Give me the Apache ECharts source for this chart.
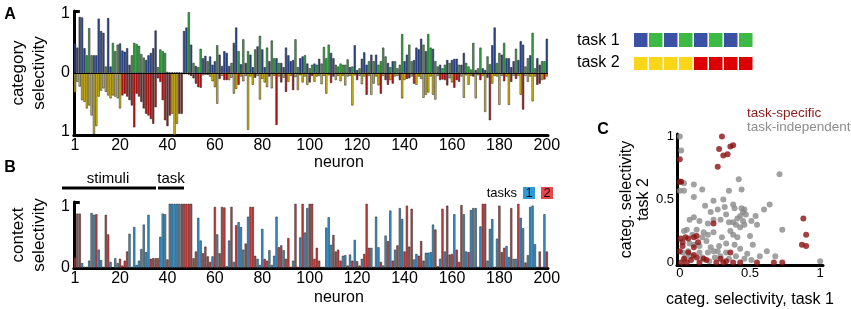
<!DOCTYPE html>
<html>
<head>
<meta charset="utf-8">
<script src="https://cdn.jsdelivr.net/npm/echarts@6.0.0/dist/echarts.min.js"></script>
<style>html,body{margin:0;padding:0;background:#fff;}#chart{width:851px;height:309px;}</style>
</head>
<body>
<div id="chart"></div>
<script>
// ---------- DATA ----------
const neurons = Array.from({length: 200}, (_, i) => String(i + 1));
const neuronTickLabels = ['1','20','40','60','80','100','120','140','160','180','200'];

// Panel A: category selectivity, task 1 (up) and task 2 (down)
const task1Selectivity = [
 .50,.43,.95,.94,.42,.30,.76,.30,.30,.30,
 .92,.71,.68,.11,.93,.11,.51,.37,.48,.50,
 .38,.36,.42,.14,.30,.51,.49,.46,.32,.26,
 .22,.30,.34,.42,.72,.10,.40,.37,.34,.02,
 .01,.01,.01,.01,.01,.00,.71,.77,1.03,.48,
 .17,.12,.10,.41,.25,.29,.20,.28,.14,.20,
 .47,.31,.12,.37,.34,.12,.17,.51,.77,.37,
 .15,.57,.17,.37,.31,.10,.40,.45,.63,.40,
 .10,.43,.20,.55,.25,.25,.17,.17,.10,.43,
 .30,.20,.22,.57,.10,.25,.28,.30,.16,.08,
 .14,.16,.14,.24,.16,.44,.25,.48,.34,.25,
 .14,.11,.16,.14,.14,.23,.10,.11,.47,.05,
 .08,.24,.35,.14,.20,.31,.20,.31,.14,.20,
 .43,.28,.17,.10,.20,.20,.08,.14,.66,.20,
 .31,.48,.20,.22,.43,.40,.58,.48,.37,.66,
 .43,.41,.20,.11,.14,.08,.14,.22,.17,.22,
 .24,.24,.14,.14,.34,.17,.11,.06,.51,.05,
 .08,.43,.08,.05,.28,.15,.47,.77,.17,.34,
 .31,.51,.25,.25,.10,.20,.41,.22,.54,.48,
 .11,.25,.30,.68,.08,.25,.14,.20,.20,.58];
const task1Category = (
 'BBBBBGGGBB' + 'BBBGBBGGGB' + 'BBBBGGGGGG' + 'BBBBBGGGGB' + 'BBBBBBBBGB' +
 'GBGGBBGBBB' + 'GBBBBBGBBG' + 'BGBGBBGBGB' + 'BGBGGBGBBB' + 'BBBGGBBGBG' +
 'GBGBGGGGBB' + 'GGGGGGBGBB' + 'GBBBGBGBGG' + 'GGBGBGGGGB' + 'BGGBBBBGBG' +
 'GBGGBGGBGB' + 'BBGBBGGGGB' + 'GGBBGGBBGG' + 'BGBBBBGBBB' + 'GGBGGBBGGB').split('');

const task2Selectivity = [
 .33,.15,.23,.46,.49,.60,.55,.72,1.03,.90,
 .40,.30,.26,.32,.38,.43,.38,.40,.43,.60,
 .38,.35,.40,.46,.55,.92,.35,.40,.49,.60,
 .69,.72,.78,.86,.58,.09,.15,.46,.80,.90,
 .72,.69,1.05,.86,.69,.69,.02,.02,.03,.05,
 .09,.18,.24,.25,.04,.03,.03,.06,.14,.24,
 .52,.10,.05,.12,.12,.12,.08,.35,.27,.20,
 .06,.14,.05,.96,.06,.20,.08,.05,.45,.10,
 .16,.24,.06,.26,.05,.88,.06,.16,.08,.32,
 .15,.05,.29,.07,.29,.04,.16,.06,.20,.16,
 .05,.15,.06,.05,.19,.05,.35,.04,.17,.06,
 .12,.05,.14,.05,.21,.06,.05,.55,.04,.12,
 .05,.19,.06,.37,.05,.37,.18,.06,.21,.35,
 .05,.12,.20,.12,.18,.06,.05,.12,.43,.12,
 .10,.09,.06,.18,.20,.06,.10,.42,.37,.33,
 .06,.37,.45,.05,.12,.11,.12,.21,.09,.16,
 .25,.12,.15,.06,.42,.04,.20,.05,.06,.43,
 .04,.12,.05,.66,.08,.80,.18,.05,.06,.54,
 .05,.14,.06,.54,.15,.05,.10,.05,.37,.62,
 .05,.15,.06,.48,.06,.20,.18,.12,.11,.06];
const task2Category = (
 'YYYYYYYYYY' + 'YYYYYYYYYY' + 'RRRRRRRRRR' + 'RRRRRRRRRR' + 'RYYYRRYRYR' +
 'RRRRYYRYYY' + 'YRYRRYYYYR' + 'YYYYYYRYYY' + 'YYRYYRYRYR' + 'YYRYYYYYYR' +
 'RYYYYYYYRR' + 'YYYYYYYYYR' + 'YYYRYYYYYR' + 'YRRYRYYRYY' + 'RRYRYYYYYY' +
 'YYYYRRRRYY' + 'RRRYYYYYRY' + 'YRYYRRYYYY' + 'YRYYRYRYYR' + 'YYYYYRRYRY').split('');

// Panel B: context selectivity, colour = preferred task
const contextSelectivity = [
 .17,.89,.89,.08,.02,.02,.12,.90,.87,.88,
 .30,.13,.02,.87,.55,.10,.01,.16,.08,.15,
 .04,.12,.27,.56,.02,.67,.05,.12,.31,.71,
 .26,.87,.15,.16,.16,.16,.51,.89,.88,.14,
 1.05,1.05,1.05,1.05,1.05,1.05,1.05,1.05,1.05,1.05,
 .16,.27,.82,.45,.24,.35,.19,.10,.19,1.00,
 .55,.24,1.00,.99,.03,.45,1.00,.10,.70,.75,
 .67,.30,.40,.84,1.00,1.00,.20,.15,.05,.64,
 .15,.12,.29,.05,.20,.84,.34,.37,.29,.15,
 .49,.02,.12,1.05,.02,.50,1.05,.58,.98,1.05,
 1.05,.15,.33,.12,.02,.02,.66,.83,.38,.54,
 .27,.30,.12,.20,.21,.04,.22,.12,.46,.11,
 .04,.15,.23,1.05,.33,.33,.02,.84,.34,.10,
 .04,.53,.44,.94,.12,.30,.37,.98,.80,.27,
 1.02,.35,.97,.14,.23,.20,.44,.12,.25,.25,
 .26,.71,.63,.03,.15,.97,.27,1.02,.22,.23,
 .88,.30,.10,1.03,.88,.27,.26,.95,.98,.98,
 .02,.68,1.05,1.05,.12,.64,.80,.02,.48,1.02,
 .26,.33,.36,.18,.98,.15,.15,1.05,.82,.65,
 .09,.21,1.00,1.02,.39,.02,.27,.02,.88,.27];
const contextTask = (
 'RRRBRRBBBR' + 'BBBRRBBBBR' + 'RRRBBBBBBB' + 'BBRRRRBBBR' + 'BBBBBRRRRR' +
 'RRBBRRRRBR' + 'BRRRBBRBRB' + 'BBRBRRRBBB' + 'RRBBBBRRBR' + 'RRBRRBRBBR' +
 'RRRRRRBBBR' + 'RRRBBRBRBR' + 'RBRRRBRBBR' + 'BBRBRBRBBR' + 'RRRBBRRRBB' +
 'BBRRBRBRRR' + 'BRRRBBRBBB' + 'BBRRBBBRBR' + 'RRBBRBBRBB' + 'RBBBBRRBBR').split('');

// Panel C: categ. selectivity task 1 (x) vs task 2 (y)
const scatterTaskSpecific = [
 [0.30,1.00],[0.28,0.90],[0.36,0.92],[0.38,0.93],[0.31,0.85],[0.34,0.86],[0.27,0.76],
 [0.00,0.82],[0.00,0.64],[0.01,0.64],[0.88,0.35],[0.90,0.22],[0.87,0.14],[0.90,0.13],
 [0.24,0.31],[0.005,0.19],[0.02,0.16],[0.02,0.13],[0.00,0.09],[0.04,0.20],[0.06,0.19],
 [0.10,0.20],[0.12,0.21],[0.13,0.16],[0.10,0.12],[0.06,0.08],[0.10,0.06],[0.17,0.03],
 [0.14,0.00],[0.19,0.02],[0.26,0.00],[0.29,0.03],[0.31,0.00],[0.33,0.01],[0.36,0.08],
 [0.38,0.00],[0.43,0.00],[0.55,0.00],[0.67,0.00],[0.73,0.00],[0.01,0.00],[0.05,0.00],
 [0.03,0.03],[0.08,0.02],[0.12,0.04]];
const scatterTaskIndependent = [
 [0.00,1.00],[0.01,0.89],[0.03,0.63],[0.00,0.57],[0.03,0.57],[0.10,0.62],[0.16,0.58],
 [0.10,0.52],[0.24,0.49],[0.31,0.50],[0.27,0.42],[0.42,0.66],[0.44,0.58],[0.38,0.46],
 [0.39,0.43],[0.44,0.43],[0.46,0.42],[0.45,0.40],[0.47,0.38],[0.43,0.37],[0.41,0.35],
 [0.38,0.32],[0.35,0.32],[0.40,0.30],[0.43,0.28],[0.46,0.30],[0.45,0.33],[0.33,0.38],
 [0.29,0.34],[0.24,0.34],[0.20,0.31],[0.14,0.33],[0.10,0.36],[0.07,0.34],[0.03,0.25],
 [0.05,0.26],[0.12,0.26],[0.17,0.24],[0.20,0.22],[0.24,0.24],[0.19,0.17],[0.14,0.13],
 [0.10,0.14],[0.06,0.09],[0.08,0.05],[0.14,0.08],[0.20,0.08],[0.24,0.09],[0.27,0.09],
 [0.29,0.05],[0.33,0.08],[0.38,0.22],[0.39,0.14],[0.43,0.11],[0.40,0.05],[0.46,0.03],
 [0.51,0.02],[0.57,0.05],[0.62,0.09],[0.68,0.05],[0.73,0.26],[0.71,0.70],[0.64,0.46],
 [0.60,0.42],[0.54,0.37],[0.51,0.33],[0.55,0.30],[0.50,0.21],[0.52,0.14],[1.00,0.01],
 [0.35,0.57],[0.22,0.40],[0.18,0.45],[0.30,0.20],[0.33,0.15],[0.28,0.13],[0.16,0.20],
 [0.22,0.12],[0.25,0.04],[0.04,0.04],[0.02,0.08],[0.07,0.15],[0.16,0.04],[0.21,0.01],
 [0.35,0.03],[0.48,0.07],[0.09,0.22],[0.36,0.25],[0.41,0.20],[0.32,0.44]];

const selTickValues = [-1, 0, 1];
const ctxTickValues = [0, 1];
const scatterTickValues = [0, 0.5, 1];
const legendTask1 = ['B','G','B','G','B','G','B','G'];
const legendTask2 = ['Y','Y','Y','Y','R','R','R','R'];

// ---------- STYLE ----------
const FONT = '"Liberation Sans", Arial, sans-serif';
const colA = {B:'#2f4c9c', G:'#37b145', Y:'#e2c417', R:'#cc1212'};
const colLegend = {B:'#3b52a4', G:'#3cba46', Y:'#f9d718', R:'#dc0000'};
const colB = {B:'#3b99d5', R:'#d63f3f'};
const showTick = (i, v) => neuronTickLabels.includes(v);

const chart = echarts.init(document.getElementById('chart'));
const catAxis = (gridIndex, nameGap) => ({
  gridIndex, type: 'category', data: neurons, boundaryGap: true,
  axisLine: {onZero: false, lineStyle: {color: '#000', width: 3}},
  axisTick: {inside: true, length: 5, alignWithLabel: true, interval: showTick, lineStyle: {color: '#000', width: 2.5}},
  axisLabel: {interval: showTick, fontSize: 16, color: '#000', margin: 3, fontFamily: FONT},
  splitLine: {show: false},
  name: 'neuron', nameLocation: 'middle', nameGap,
  nameTextStyle: {fontSize: 16, color: '#000', fontFamily: FONT, padding: [0, 0, 0, 56]}
});
const barStyle = {borderColor: '#1a1a1a', borderWidth: 0.5};

chart.setOption({
  animation: false,
  textStyle: {fontFamily: FONT},
  grid: [
    {left: 62, top: 11, width: 486, height: 124},
    {left: 62, top: 202, width: 486, height: 66},
    {left: 677, top: 134, width: 146, height: 132}
  ],
  xAxis: [
    catAxis(0, 19),
    catAxis(1, 22),
    {gridIndex: 2, type: 'value', min: -0.02, max: 1.02,
     axisLine: {onZero: false, lineStyle: {color: '#000', width: 3}},
     axisTick: {show: false}, splitLine: {show: false},
     axisLabel: {customValues: scatterTickValues, fontSize: 13, color: '#000', margin: 2,
                 formatter: v => String(v)},
     name: 'categ. selectivity, task 1', nameLocation: 'middle', nameGap: 27,
     nameTextStyle: {fontSize: 16, color: '#000'}}
  ],
  yAxis: [
    {gridIndex: 0, type: 'value', min: -1.05, max: 1.05,
     axisLine: {show: true, lineStyle: {color: '#000', width: 3}},
     axisTick: {show: true, inside: true, length: 6, customValues: [1.05], lineStyle: {color: '#000', width: 3}},
     axisLabel: {customValues: selTickValues, fontSize: 16, color: '#000', margin: 4,
                 formatter: v => String(Math.abs(v))},
     splitLine: {show: false},
     name: 'category\nselectivity', nameLocation: 'middle', nameRotate: 90, nameGap: 19,
     nameTextStyle: {fontSize: 17, lineHeight: 21, color: '#000'}},
    {gridIndex: 1, type: 'value', min: 0, max: 1.08,
     axisLine: {show: true, lineStyle: {color: '#000', width: 3}},
     axisTick: {show: true, inside: true, length: 6, customValues: [1.08], lineStyle: {color: '#000', width: 3}},
     axisLabel: {customValues: ctxTickValues, fontSize: 16, color: '#000', margin: 4},
     splitLine: {show: false},
     name: 'context\nselectivity', nameLocation: 'middle', nameRotate: 90, nameGap: 19,
     nameTextStyle: {fontSize: 17, lineHeight: 21, color: '#000'}},
    {gridIndex: 2, type: 'value', min: -0.02, max: 1.02,
     axisLine: {onZero: false, show: true, lineStyle: {color: '#000', width: 3}},
     axisTick: {show: false}, splitLine: {show: false},
     axisLabel: {customValues: scatterTickValues, fontSize: 13, color: '#000', margin: 3,
                 formatter: v => String(v)},
     name: 'categ. selectivity\ntask 2', nameLocation: 'middle', nameRotate: 90, nameGap: 25,
     nameTextStyle: {fontSize: 16, lineHeight: 17, color: '#000'}}
  ],
  series: [
    {type: 'bar', xAxisIndex: 0, yAxisIndex: 0, barWidth: '90%', barGap: '-100%',
     itemStyle: barStyle,
     data: task1Selectivity.map((v, i) => ({value: v, itemStyle: {color: colA[task1Category[i]]}})),
     markLine: {silent: true, symbol: 'none', label: {show: false},
                lineStyle: {color: '#000', width: 1, type: 'solid'}, data: [{yAxis: 0}]}},
    {type: 'bar', xAxisIndex: 0, yAxisIndex: 0, barWidth: '90%', barGap: '-100%',
     itemStyle: barStyle,
     data: task2Selectivity.map((v, i) => ({value: -v, itemStyle: {color: colA[task2Category[i]]}}))},
    {type: 'bar', xAxisIndex: 1, yAxisIndex: 1, barWidth: '90%',
     itemStyle: {borderColor: '#1a1a1a', borderWidth: 0.5},
     data: contextSelectivity.map((v, i) => ({value: v, itemStyle: {color: colB[contextTask[i]]}}))},
    {type: 'scatter', xAxisIndex: 2, yAxisIndex: 2, symbolSize: 6,
     itemStyle: {color: '#8a8a8a'}, data: scatterTaskIndependent},
    {type: 'scatter', xAxisIndex: 2, yAxisIndex: 2, symbolSize: 6,
     itemStyle: {color: '#8c1212'}, data: scatterTaskSpecific}
  ],
  graphic: [
    {type: 'text', x: 10, y: 15, style: {text: 'A', font: 'bold 16px ' + FONT, fill: '#000', align: 'center', verticalAlign: 'middle'}},
    {type: 'text', x: 10, y: 168, style: {text: 'B', font: 'bold 16px ' + FONT, fill: '#000', align: 'center', verticalAlign: 'middle'}},
    {type: 'text', x: 603, y: 130, style: {text: 'C', font: 'bold 16px ' + FONT, fill: '#000', align: 'center', verticalAlign: 'middle'}},
    {type: 'text', x: 577, y: 41, style: {text: 'task 1', font: '16px ' + FONT, fill: '#000', verticalAlign: 'middle'}},
    {type: 'text', x: 577, y: 63, style: {text: 'task 2', font: '16px ' + FONT, fill: '#000', verticalAlign: 'middle'}},
    ...legendTask1.map((c, i) => ({type: 'rect', shape: {x: 634 + i * 15, y: 33, width: 13.5, height: 14}, style: {fill: colLegend[c]}})),
    ...legendTask2.map((c, i) => ({type: 'rect', shape: {x: 634 + i * 15, y: 57, width: 13.5, height: 13}, style: {fill: colLegend[c]}})),
    {type: 'text', x: 108, y: 179, style: {text: 'stimuli', font: '15px ' + FONT, fill: '#000', align: 'center', verticalAlign: 'middle'}},
    {type: 'text', x: 171, y: 179, style: {text: 'task', font: '15px ' + FONT, fill: '#000', align: 'center', verticalAlign: 'middle'}},
    {type: 'line', shape: {x1: 62, y1: 188, x2: 156, y2: 188}, style: {stroke: '#000', lineWidth: 3}},
    {type: 'line', shape: {x1: 158, y1: 188, x2: 184, y2: 188}, style: {stroke: '#000', lineWidth: 3}},
    {type: 'text', x: 517, y: 193, style: {text: 'tasks', font: '13px ' + FONT, fill: '#000', align: 'right', verticalAlign: 'middle'}},
    {type: 'rect', shape: {x: 523, y: 187, width: 12, height: 12}, style: {fill: '#2f9ad8'}},
    {type: 'text', x: 529, y: 193, style: {text: '1', font: '13px ' + FONT, fill: '#111', align: 'center', verticalAlign: 'middle'}},
    {type: 'rect', shape: {x: 541, y: 187, width: 12, height: 12}, style: {fill: '#e5484d'}},
    {type: 'text', x: 547, y: 193, style: {text: '2', font: '13px ' + FONT, fill: '#111', align: 'center', verticalAlign: 'middle'}},
    {type: 'text', x: 747, y: 113, style: {text: 'task-specific', font: '13.5px ' + FONT, fill: '#8b1a1a', verticalAlign: 'middle'}},
    {type: 'text', x: 747, y: 127, style: {text: 'task-independent', font: '13.5px ' + FONT, fill: '#8c8c8c', verticalAlign: 'middle'}}
  ]
});
</script>
</body>
</html>
